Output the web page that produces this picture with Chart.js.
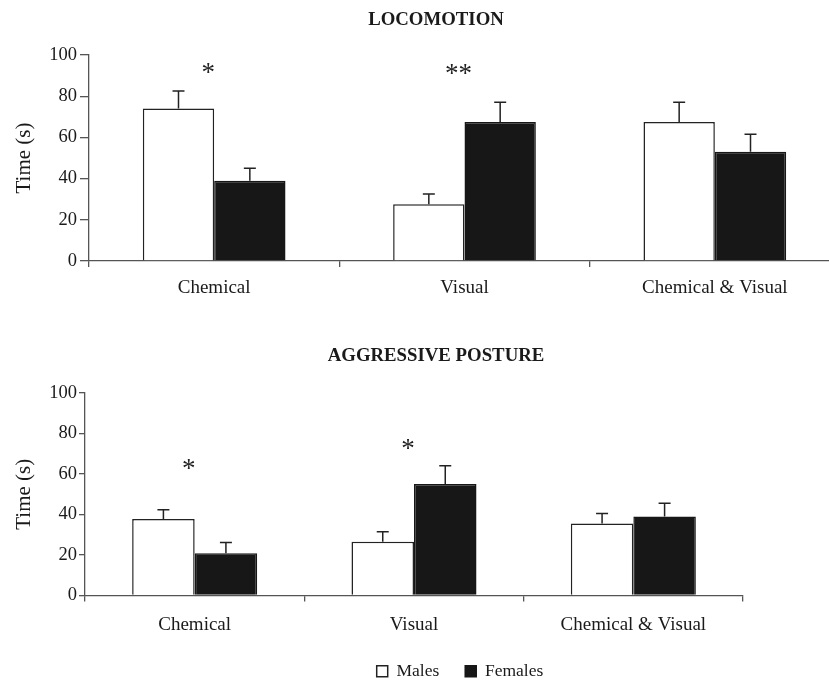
<!DOCTYPE html>
<html><head><meta charset="utf-8">
<script src="https://cdn.jsdelivr.net/npm/chart.js@4.4.1/dist/chart.umd.min.js"></script>
<style>
html,body{margin:0;padding:0;overflow:hidden;background:#fff;width:829px;height:680px;}
#w1{position:absolute;left:0;top:0;width:870px;height:320px;}
#w2{position:absolute;left:0;top:330px;width:863px;height:360px;}
</style></head><body>
<div id="w1"><canvas id="c1"></canvas></div>
<div id="w2"><canvas id="c2"></canvas></div>
<script>
// ---- data ----
const categories = ['Chemical', 'Visual', 'Chemical & Visual'];
const seriesNames = ['Males', 'Females'];
const yTicks = [0, 20, 40, 60, 80, 100];

const locoTitle = 'LOCOMOTION';
const locoMales = [74, 27.5, 67.5];
const locoFemales = [39, 67.5, 53];
const locoMalesErr = [8.5, 5, 9.5];
const locoFemalesErr = [6, 9.5, 8.5];
const locoStars = ['*', '**', ''];
const locoStarLevel = [93.5, 93, null];

const aggrTitle = 'AGGRESSIVE POSTURE';
const aggrMales = [37.8, 26.5, 35.5];
const aggrFemales = [20.8, 55, 39];
const aggrMalesErr = [4.5, 5, 5];
const aggrFemalesErr = [5.4, 9, 6.5];
const aggrStars = ['*', '*', ''];
const aggrStarLevel = [64.7, 74.6, null];

// ---- plugins ----
const errorBarPlugin = {
  id: 'errorBars',
  afterDatasetsDraw(chart) {
    const ctx = chart.ctx, ys = chart.scales.y;
    chart.data.datasets.forEach((ds, di) => {
      const meta = chart.getDatasetMeta(di);
      meta.data.forEach((bar, i) => {
        const top = ys.getPixelForValue(ds.data[i] + ds.errors[i]);
        ctx.save();
        ctx.strokeStyle = '#222';
        ctx.lineWidth = 1.5;
        ctx.beginPath();
        ctx.moveTo(bar.x, bar.y);
        ctx.lineTo(bar.x, top);
        ctx.moveTo(bar.x - 6, top);
        ctx.lineTo(bar.x + 6, top);
        ctx.stroke();
        ctx.restore();
      });
    });
  }
};

const starPlugin = {
  id: 'stars',
  afterDatasetsDraw(chart, args, opts) {
    const ctx = chart.ctx, xs = chart.scales.x, ys = chart.scales.y;
    ctx.save();
    ctx.font = opts.font;
    ctx.fillStyle = '#222';
    ctx.textAlign = 'center';
    ctx.textBaseline = 'alphabetic';
    opts.labels.forEach((t, i) => {
      if (!t) return;
      const m = ctx.measureText(t);
      const px = xs.getPixelForValue(i) + opts.dx;
      const py = ys.getPixelForValue(opts.levels[i]) + (m.actualBoundingBoxAscent - m.actualBoundingBoxDescent) / 2;
      ctx.fillText(t, px, py);
    });
    ctx.restore();
  }
};

// shifts the full-width title / legend boxes horizontally
const boxShiftPlugin = {
  id: 'boxShift',
  afterLayout(chart, args, opts) {
    if (chart.titleBlock && opts.titleDx) {
      chart.titleBlock.left += opts.titleDx;
      chart.titleBlock.right += opts.titleDx;
    }
    if (chart.legend && opts.legendDx) {
      chart.legend.left += opts.legendDx;
      chart.legend.right += opts.legendDx;
    }
  }
};

const SERIF = "'Liberation Serif', 'Times New Roman', serif";
Chart.defaults.font.family = SERIF;
Chart.defaults.color = '#1a1a1a';

function makeChart(canvasId, title, males, females, mErr, fErr, stars, levels, o) {
  return new Chart(document.getElementById(canvasId), {
    type: 'bar',
    data: {
      labels: categories,
      datasets: [
        { label: seriesNames[0], data: males, errors: mErr,
          backgroundColor: '#ffffff', borderColor: '#222', borderWidth: 1.5,
          categoryPercentage: 0.57, barPercentage: 1.0 },
        { label: seriesNames[1], data: females, errors: fErr,
          backgroundColor: '#171717', borderColor: '#171717', borderWidth: 1.5,
          categoryPercentage: 0.57, barPercentage: 1.0 }
      ]
    },
    options: {
      responsive: true,
      maintainAspectRatio: false,
      animation: false,
      devicePixelRatio: 1,
      layout: { padding: { left: 0, top: 0, right: o.padRight, bottom: 0 } },
      plugins: {
        title: { display: true, text: title, color: '#1a1a1a',
          font: { size: 18.8, weight: 'bold', family: SERIF },
          padding: { top: o.titleTop, bottom: o.titleBottom } },
        legend: { display: o.legend, position: 'bottom',
          labels: { boxWidth: 11, boxHeight: 11, padding: 26, color: '#1a1a1a',
            font: { size: 17.5, family: SERIF } } },
        tooltip: { enabled: false },
        stars: { labels: stars, levels: levels, dx: -6, font: '27px ' + SERIF },
        boxShift: { titleDx: o.titleDx, legendDx: o.legendDx }
      },
      scales: {
        x: {
          grid: { display: true, drawOnChartArea: false, drawTicks: true, tickLength: 6,
            color: '#555', lineWidth: 1.3, offset: true },
          border: { display: true, color: '#555', width: 1.3 },
          ticks: { font: { size: 19, family: SERIF }, color: '#1a1a1a', padding: o.xPad, maxRotation: 0 },
          afterFit: (s) => { s.height = o.xHeight; }
        },
        y: {
          min: 0, max: 100,
          afterBuildTicks: (s) => { s.ticks = yTicks.map(v => ({ value: v })); },
          grid: { display: true, drawOnChartArea: false, tickLength: o.yTickLen, color: '#555', lineWidth: 1.3 },
          border: { display: true, color: '#555', width: 1.3 },
          ticks: { font: { size: 18.5, family: SERIF }, color: '#1a1a1a', padding: o.yPad },
          title: { display: true, text: 'Time (s)', color: '#1a1a1a',
            font: { size: 21, family: SERIF }, padding: { top: 12, bottom: 0 } },
          afterFit: (s) => { s.width = o.yWidth; }
        }
      }
    },
    plugins: [errorBarPlugin, starPlugin, boxShiftPlugin]
  });
}

makeChart('c1', locoTitle, locoMales, locoFemales, locoMalesErr, locoFemalesErr, locoStars, locoStarLevel,
  { padRight: 30, titleTop: 8.7, titleBottom: 23.7, legend: false, xPad: 10, xHeight: 59,
    yTickLen: 9, yPad: 3, yWidth: 89, titleDx: 16, legendDx: 0 });

makeChart('c2', aggrTitle, aggrMales, aggrFemales, aggrMalesErr, aggrFemalesErr, aggrStars, aggrStarLevel,
  { padRight: 120, titleTop: 15.2, titleBottom: 25.2, legend: true, xPad: 12, xHeight: 41,
    yTickLen: 6, yPad: 2, yWidth: 85, titleDx: 64.5, legendDx: 88.5 });
</script>
</body></html>
